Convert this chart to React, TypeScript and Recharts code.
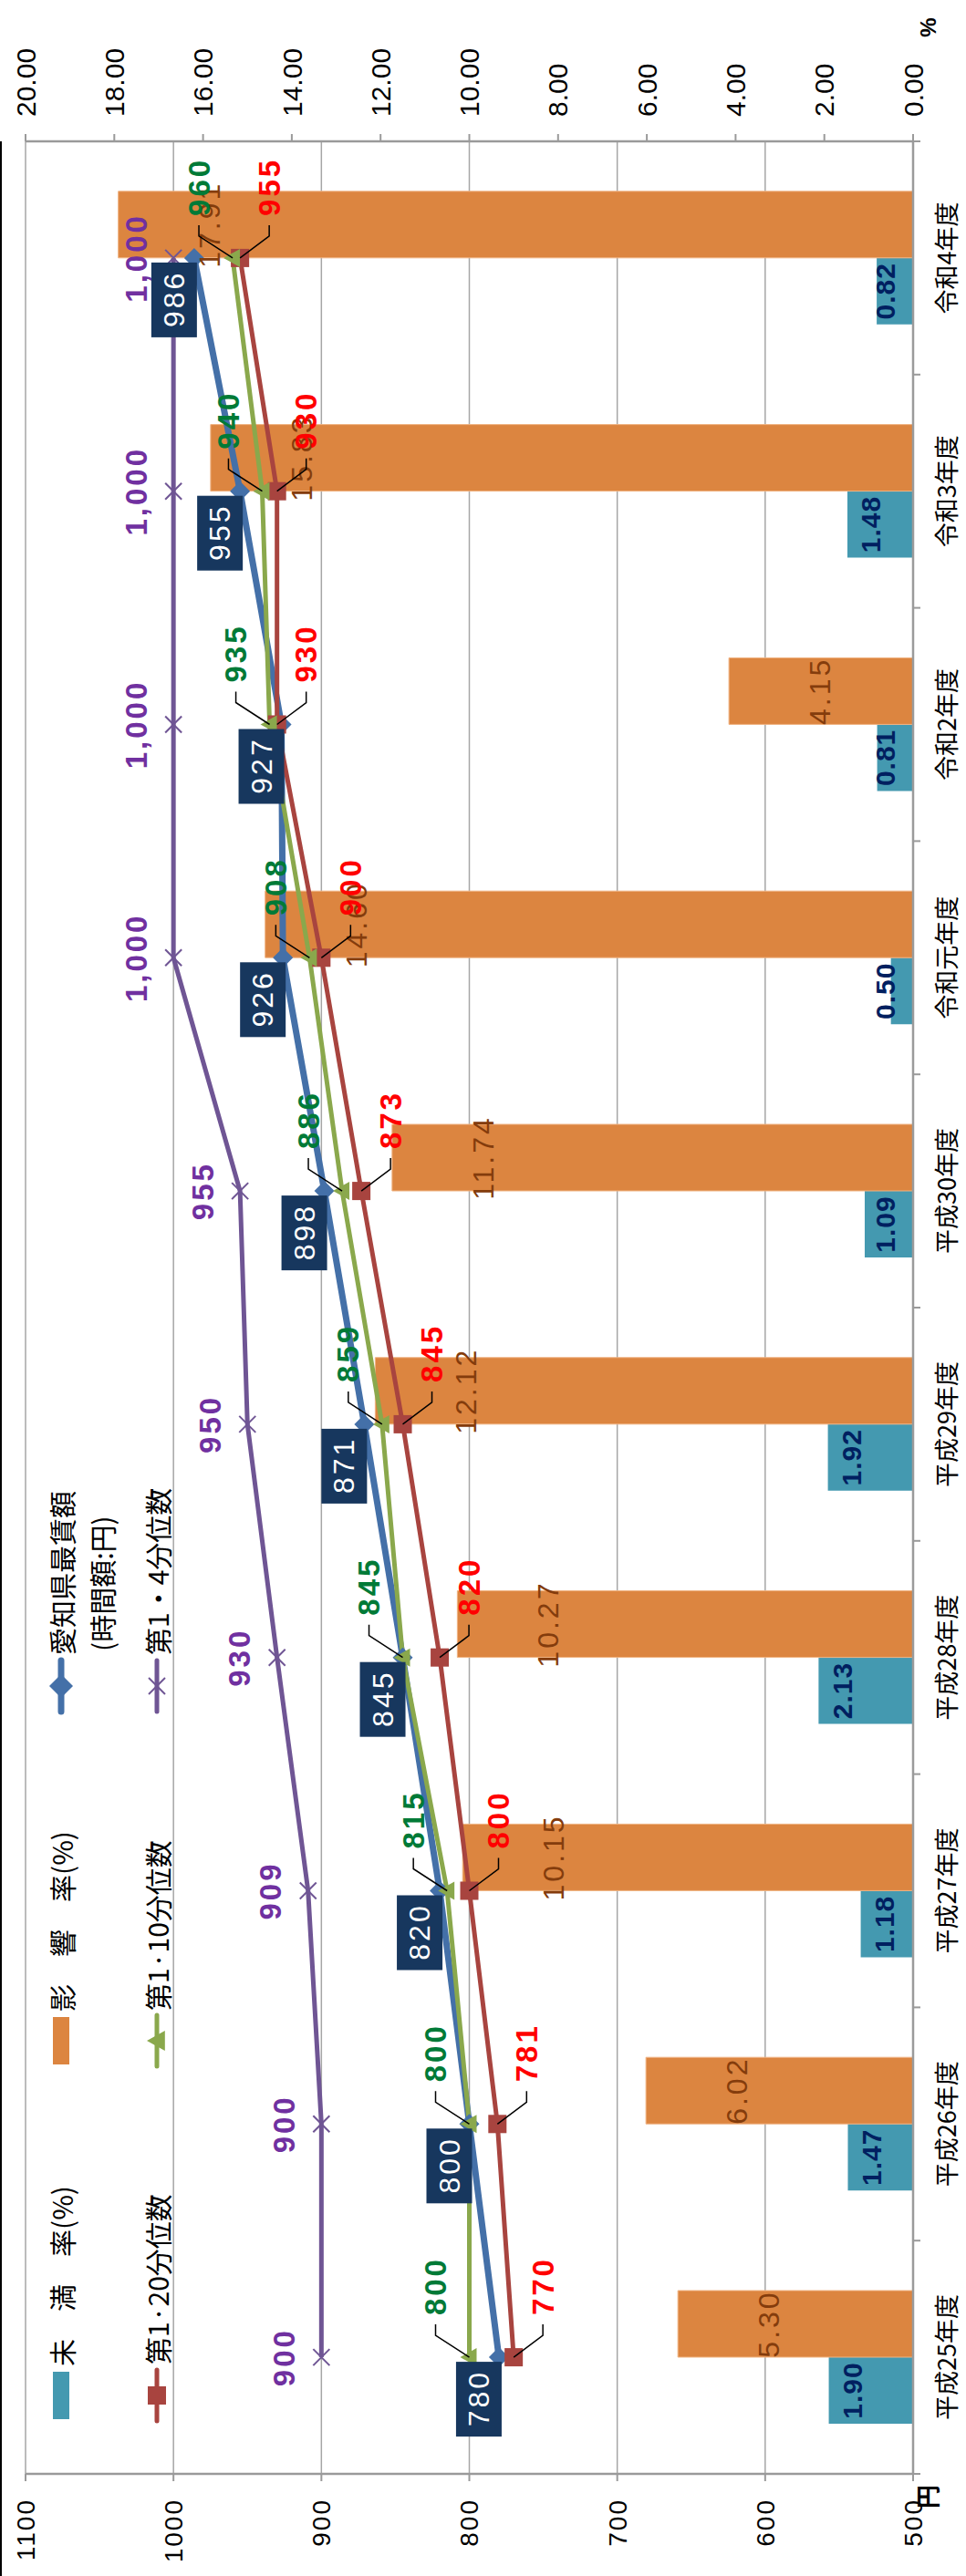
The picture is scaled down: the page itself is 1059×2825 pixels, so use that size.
import React from "react";
import { ComposedChart, Bar, Line, XAxis, YAxis, CartesianGrid, Legend, LabelList } from "recharts";

// 年度ごとのデータ
const years = ["平成25年度", "平成26年度", "平成27年度", "平成28年度", "平成29年度", "平成30年度", "令和元年度", "令和2年度", "令和3年度", "令和4年度"];
const underRate = [1.9, 1.47, 1.18, 2.13, 1.92, 1.09, 0.5, 0.81, 1.48, 0.82];
const impactRate = [5.3, 6.02, 10.15, 10.27, 12.12, 11.74, 14.6, 4.15, 15.83, 17.91];
const aichiWage = [780, 800, 820, 845, 871, 898, 926, 927, 955, 986];
const p20 = [770, 781, 800, 820, 845, 873, 900, 930, 930, 955];
const p10 = [800, 800, 815, 845, 859, 886, 908, 935, 940, 960];
const p4 = [900, 900, 909, 930, 950, 955, 1000, 1000, 1000, 1000];
const yenTicks = [500, 600, 700, 800, 900, 1000, 1100];
const pctTicks = [0, 2, 4, 6, 8, 10, 12, 14, 16, 18, 20];

const rows = years.map((year, i) => ({
  year,
  under: underRate[i],
  impact: impactRate[i],
  aichi: aichiWage[i],
  p20: p20[i],
  p10: p10[i],
  p4: p4[i],
}));

const W = 2825;
const H = 1059;
const LEFT_W = 112;
const RIGHT_W = 155;
const X_H = 58;
const AXIS_Y = H - X_H;
const BAND = (W - LEFT_W - RIGHT_W) / years.length;

const NUM = '"Liberation Sans", Arial, sans-serif';
const JP = '"Noto Sans CJK JP", "Noto Sans CJK SC", sans-serif';

const BLUE = "#4470a8";
const RED = "#a8443f";
const GREEN = "#8aa84c";
const PURPLE = "#6f5594";
const TEAL = "#4499b0";
const ORANGE = "#dc8540";
const AXIS = "#9a9a9a";

const CategoryTick = (props: any) => {
  const { x, payload, index } = props;
  const half = BAND / 2;
  return (
    <g>
      <line x1={x - half} x2={x - half} y1={AXIS_Y} y2={AXIS_Y + 8} stroke={AXIS} strokeWidth={2} />
      {index === years.length - 1 && (
        <line x1={x + half} x2={x + half} y1={AXIS_Y} y2={AXIS_Y + 8} stroke={AXIS} strokeWidth={2} />
      )}
      <text x={x} y={AXIS_Y + 35} textAnchor="middle" dominantBaseline="central" fontSize={27} fontFamily={JP} fill="#000">
        {payload.value}
      </text>
    </g>
  );
};

const diamond = (color: string, r: number) => (props: any) => {
  const { cx, cy, index } = props;
  return <polygon key={index} points={`${cx},${cy - r} ${cx + r},${cy} ${cx},${cy + r} ${cx - r},${cy}`} fill={color} />;
};
const square = (color: string, r: number) => (props: any) => {
  const { cx, cy, index } = props;
  return <rect key={index} x={cx - r} y={cy - r} width={r * 2} height={r * 2} fill={color} />;
};
const triangle = (color: string, r: number) => (props: any) => {
  const { cx, cy, index } = props;
  return <polygon key={index} points={`${cx},${cy - r} ${cx + r},${cy + r * 0.8} ${cx - r},${cy + r * 0.8}`} fill={color} />;
};
const cross = (color: string, r: number) => (props: any) => {
  const { cx, cy, index } = props;
  return (
    <g key={index}>
      <line x1={cx - r} y1={cy - r} x2={cx + r} y2={cy + r} stroke={color} strokeWidth={2} />
      <line x1={cx - r} y1={cy + r} x2={cx + r} y2={cy - r} stroke={color} strokeWidth={2} />
    </g>
  );
};

const WageBox = (props: any) => {
  const { x, y, value } = props;
  const w = 82;
  const h = 50;
  return (
    <g>
      <rect x={x - 5 - w} y={y - 22 - h / 2} width={w} height={h} fill="#17375e" />
      <text x={x - 5 - w / 2 + 1} y={y - 22} textAnchor="middle" dominantBaseline="central" fontSize={32} letterSpacing={3} fontFamily={NUM} fill="#fff">
        {value}
      </text>
    </g>
  );
};

const leaderLabel = (dy: number, color: string) => (props: any) => {
  const { x, y, value } = props;
  const ex = x + 24;
  const ey = y + dy;
  return (
    <g>
      <polyline points={`${x},${y} ${ex},${ey} ${ex + 12},${ey}`} fill="none" stroke="#000" strokeWidth={1.5} />
      <text x={ex + 22} y={ey} dominantBaseline="central" fontSize={33} letterSpacing={3} fontFamily={NUM} fontWeight="bold" fill={color}>
        {value}
      </text>
    </g>
  );
};

const TopLabel = (props: any) => {
  const { x, y, value } = props;
  return (
    <text x={x} y={y - 41} textAnchor="middle" dominantBaseline="central" fontSize={33} letterSpacing={3} fontFamily={NUM} fontWeight="bold" fill="#7030a0">
      {Number(value).toLocaleString("en-US")}
    </text>
  );
};

const UnderLabel = (props: any) => {
  const { x, y, width, value } = props;
  const cy = Math.min(y + 26, AXIS_Y - 31);
  return (
    <text x={x + width / 2} y={cy} textAnchor="middle" dominantBaseline="central" fontSize={30} letterSpacing={1} fontFamily={NUM} fontWeight="bold" fill="#002060">
      {Number(value).toFixed(2)}
    </text>
  );
};

const ImpactLabel = (props: any) => {
  const { x, y, width, value } = props;
  return (
    <text x={x + width / 2} y={y + 100} textAnchor="middle" dominantBaseline="central" fontSize={32} letterSpacing={3} fontFamily={NUM} fill="#843c0c">
      {Number(value).toFixed(2)}
    </text>
  );
};

const legendCols = [172, 561, 948];
const legendRows = [67, 172];

const LegendText = ({ x, y, children }: any) => (
  <text x={x} y={y} dominantBaseline="central" fontSize={30} fontFamily={JP} fill="#000">
    {children}
  </text>
);

const LegendLine = ({ x, y, color, width }: any) => (
  <line x1={x} x2={x + 56} y1={y} y2={y} stroke={color} strokeWidth={width} strokeLinecap="round" />
);

const LegendBox = () => {
  const [c1, c2, c3] = legendCols;
  const [r1, r2] = legendRows;
  return (
    <svg width={1300} height={220} style={{ display: "block", overflow: "visible" }}>
      <rect x={c1} y={r1 - 9} width={52} height={18} fill={TEAL} />
      <LegendText x={c1 + 58} y={r1}>未　満　率(%)</LegendText>
      <rect x={c2} y={r1 - 9} width={52} height={18} fill={ORANGE} />
      <LegendText x={c2 + 58} y={r1}>影　響　率(%)</LegendText>
      <LegendLine x={c3} y={r1} color={BLUE} width={7} />
      {diamond(BLUE, 13)({ cx: c3 + 28, cy: r1, index: 0 })}
      <LegendText x={c3 + 62} y={r1}>愛知県最賃額</LegendText>
      <LegendText x={c3 + 66} y={r1 + 44}>(時間額:円)</LegendText>

      <LegendLine x={c1 - 2} y={r2} color={RED} width={5} />
      {square(RED, 10)({ cx: c1 + 26, cy: r2, index: 0 })}
      <LegendText x={c1 + 60} y={r2}>第1·20分位数</LegendText>
      <LegendLine x={c2 - 2} y={r2} color={GREEN} width={5} />
      {triangle(GREEN, 11)({ cx: c2 + 26, cy: r2, index: 0 })}
      <LegendText x={c2 + 59} y={r2}>第1·10分位数</LegendText>
      <LegendLine x={c3} y={r2} color={PURPLE} width={5} />
      {cross(PURPLE, 9)({ cx: c3 + 28, cy: r2, index: 0 })}
      <LegendText x={c3 + 62} y={r2}>第1・4分位数</LegendText>
    </svg>
  );
};

export default function App() {
  return (
    <div style={{ position: "absolute", left: 0, top: 0, width: H, height: W, overflow: "hidden", background: "#fff" }}>
      <div
        style={{
          position: "absolute",
          left: 0,
          top: 0,
          width: W,
          height: H,
          transformOrigin: "0 0",
          transform: `translate(0px, ${W}px) rotate(-90deg)`,
        }}
      >
        <div style={{ position: "absolute", left: 0, top: 0, width: W - RIGHT_W, height: 2, background: "#000" }} />
        <ComposedChart width={W} height={H} data={rows} margin={{ top: 28, right: 0, bottom: 0, left: 0 }} barGap={0} barSize={73}>
          <CartesianGrid yAxisId="yen" vertical={false} stroke="#a6a6a6" strokeWidth={1.5} />
          <XAxis
            dataKey="year"
            height={X_H}
            interval={0}
            tickLine={false}
            tick={<CategoryTick />}
            axisLine={{ stroke: AXIS, strokeWidth: 2.5 }}
          />
          <YAxis
            yAxisId="yen"
            width={LEFT_W}
            domain={[500, 1100]}
            ticks={yenTicks}
            interval={0}
            tickSize={8}
            tickMargin={19}
            tickLine={{ stroke: AXIS, strokeWidth: 2 }}
            axisLine={{ stroke: AXIS, strokeWidth: 2.5 }}
            tick={{ fill: "#000", fontSize: 28, fontFamily: NUM, letterSpacing: 2 }}
            label={{
              content: (p: any) => (
                <text x={p.viewBox.x + p.viewBox.width - 25} y={p.viewBox.y + p.viewBox.height + 14} textAnchor="middle" dominantBaseline="central" fontSize={26} fontWeight="bold" fontFamily={JP} fill="#000">
                  円
                </text>
              ),
            }}
          />
          <YAxis
            yAxisId="pct"
            orientation="right"
            width={RIGHT_W}
            domain={[0, 20]}
            ticks={pctTicks}
            interval={0}
            tickSize={8}
            tickMargin={19}
            tickFormatter={(v: number) => v.toFixed(2)}
            tickLine={{ stroke: AXIS, strokeWidth: 2 }}
            axisLine={{ stroke: AXIS, strokeWidth: 2.5 }}
            tick={{ fill: "#000", fontSize: 30, fontFamily: NUM }}
            label={{
              content: (p: any) => (
                <text x={p.viewBox.x + 125} y={p.viewBox.y + p.viewBox.height + 16} textAnchor="middle" dominantBaseline="central" fontSize={24} fontWeight="bold" fontFamily={NUM} fill="#000">
                  %
                </text>
              ),
            }}
          />
          <Bar yAxisId="pct" dataKey="under" name="未満率(%)" fill={TEAL} isAnimationActive={false}>
            <LabelList dataKey="under" content={UnderLabel} />
          </Bar>
          <Bar yAxisId="pct" dataKey="impact" name="影響率(%)" fill={ORANGE} stroke="#f0b382" strokeWidth={1} isAnimationActive={false}>
            <LabelList dataKey="impact" content={ImpactLabel} />
          </Bar>
          <Line yAxisId="yen" dataKey="aichi" name="愛知県最賃額" stroke={BLUE} strokeWidth={7} dot={diamond(BLUE, 11)} activeDot={false} isAnimationActive={false} />
          <Line yAxisId="yen" dataKey="p20" name="第1·20分位数" stroke={RED} strokeWidth={5} dot={square(RED, 10)} activeDot={false} isAnimationActive={false} />
          <Line yAxisId="yen" dataKey="p10" name="第1·10分位数" stroke={GREEN} strokeWidth={5} dot={triangle(GREEN, 10)} activeDot={false} isAnimationActive={false} />
          <Line yAxisId="yen" dataKey="p4" name="第1・4分位数" stroke={PURPLE} strokeWidth={5} dot={cross(PURPLE, 9)} activeDot={false} isAnimationActive={false} />

          {/* labels on top of every line */}
          <Line yAxisId="yen" dataKey="p4" stroke="none" dot={false} activeDot={false} legendType="none" isAnimationActive={false}>
            <LabelList dataKey="p4" content={TopLabel} />
          </Line>
          <Line yAxisId="yen" dataKey="p10" stroke="none" dot={false} activeDot={false} legendType="none" isAnimationActive={false}>
            <LabelList dataKey="p10" content={leaderLabel(-37, "#007a37")} />
          </Line>
          <Line yAxisId="yen" dataKey="p20" stroke="none" dot={false} activeDot={false} legendType="none" isAnimationActive={false}>
            <LabelList dataKey="p20" content={leaderLabel(32, "#ff0000")} />
          </Line>
          <Line yAxisId="yen" dataKey="aichi" stroke="none" dot={false} activeDot={false} legendType="none" isAnimationActive={false}>
            <LabelList dataKey="aichi" content={WageBox} />
          </Line>

          <Legend content={LegendBox} layout="horizontal" verticalAlign="middle" align="center" wrapperStyle={{ left: 0, top: 0, width: 1300, height: 220 }} />
        </ComposedChart>
      </div>
    </div>
  );
}
